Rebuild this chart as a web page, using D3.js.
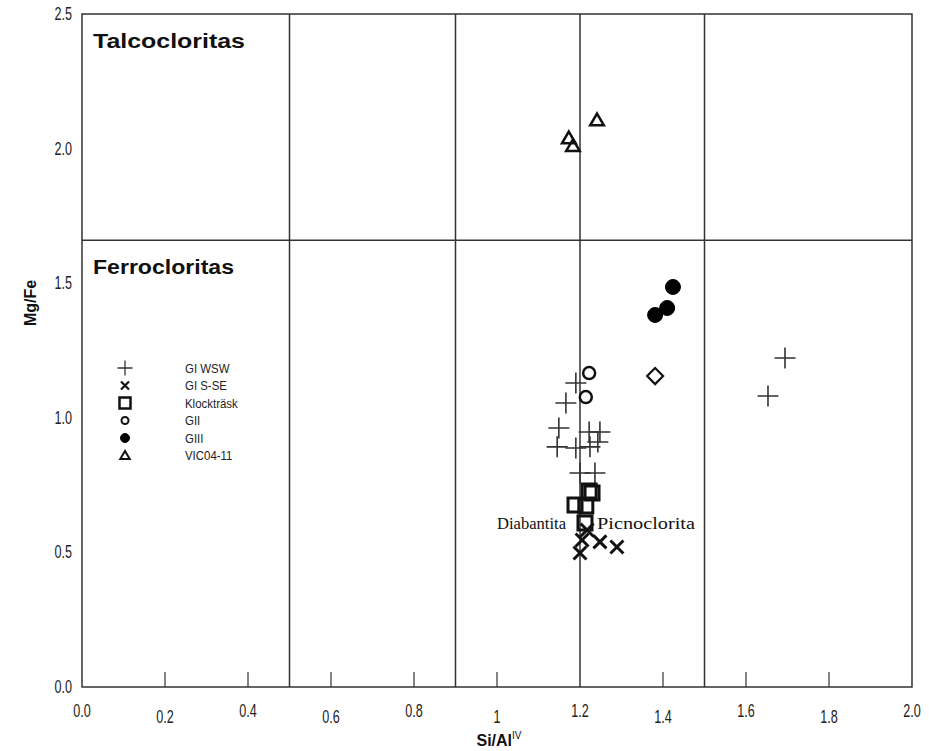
<!DOCTYPE html>
<html lang="es">
<head>
  <meta charset="UTF-8">
  <title>Mg/Fe vs Si/AlIV</title>
  <script src="https://cdn.jsdelivr.net/npm/d3@7"></script>
  <style>
    html, body { margin: 0; padding: 0; background: #fff; }
    svg { display: block; }
    .tick-lbl { font-family: "Liberation Sans", Arial, sans-serif; font-size: 17.5px; fill: #222; }
    .zone { font-family: "Liberation Sans", Arial, sans-serif; font-size: 20px; font-weight: bold; fill: #111; }
    .axis-title { font-family: "Liberation Sans", Arial, sans-serif; font-size: 16px; font-weight: bold; fill: #111; }
    .legend { font-family: "Liberation Sans", Arial, sans-serif; font-size: 13px; fill: #222; }
    .note { font-family: "Liberation Serif", "DejaVu Serif", serif; font-size: 16px; fill: #111; }
  </style>
</head>
<body>
<svg id="chart" width="929" height="751"></svg>
<script>
  // data (x = Si/AlIV, y = Mg/Fe)
  let giWsw = [
    [1.190, 1.129], [1.166, 1.055], [1.149, 0.962], [1.145, 0.892], [1.190, 0.888],
    [1.222, 0.947], [1.248, 0.947], [1.243, 0.910], [1.224, 0.892],
    [1.200, 0.795], [1.236, 0.795], [1.694, 1.222], [1.653, 1.081]
  ]
  let giSse = [[1.217, 0.583], [1.205, 0.546], [1.248, 0.539], [1.289, 0.520], [1.200, 0.498]]
  let klockPts = [[1.222, 0.728], [1.229, 0.721], [1.188, 0.676], [1.214, 0.672], [1.212, 0.609]]
  let giiPts = [[1.222, 1.166], [1.214, 1.077]]
  let giiiPts = [[1.424, 1.486], [1.410, 1.408], [1.381, 1.382]]
  let vicPts = [[1.241, 2.106], [1.173, 2.039], [1.183, 2.010]]
  let otherPts = [[1.381, 1.155]]

  let xTicks = [0, 0.2, 0.4, 0.6, 0.8, 1.0, 1.2, 1.4, 1.6, 1.8, 2.0]
  let xTickLabels = ["0.0", "0.2", "0.4", "0.6", "0.8", "1", "1.2", "1.4", "1.6", "1.8", "2.0"]
  let yTicks = [0, 0.5, 1.0, 1.5, 2.0, 2.5]
  let yTickLabels = ["0.0", "0.5", "1.0", "1.5", "2.0", "2.5"]
  let innerTicks = [0.2, 0.4, 0.6, 0.8, 1.0, 1.4, 1.6, 1.8]
  let xDividers = [0.5, 0.9, 1.2, 1.5]
  let yDivider = 1.66
  let legendNames = ["GI WSW", "GI S-SE", "Klockträsk", "GII", "GIII", "VIC04-11"]

  let svg = d3.select('#chart')
  let x = d3.scaleLinear().domain([0, 2]).range([82, 912])
  let y = d3.scaleLinear().domain([0, 2.5]).range([687, 14])

  // custom marker shapes for d3.symbol (size = half width here)
  let plusShape = { draw: (c, s) => { c.moveTo(-s, 0); c.lineTo(s, 0); c.moveTo(0, -s); c.lineTo(0, s) } }
  let xShape = { draw: (c, s) => { c.moveTo(-s, -s); c.lineTo(s, s); c.moveTo(-s, s); c.lineTo(s, -s) } }
  let squareShape = { draw: (c, s) => { c.rect(-s, -s, 2 * s, 2 * s) } }
  let circleShape = { draw: (c, s) => { c.moveTo(s, 0); c.arc(0, 0, s, 0, 2 * Math.PI) } }
  let triShape = { draw: (c, s) => { c.moveTo(0, -s); c.lineTo(s * 1.05, s * 0.8); c.lineTo(-s * 1.05, s * 0.8); c.closePath() } }
  let diamondShape = { draw: (c, s) => { c.moveTo(0, -s); c.lineTo(s, 0); c.lineTo(0, s); c.lineTo(-s, 0); c.closePath() } }

  let series = [
    { pts: giWsw, shape: plusShape, size: 10.5, fill: 'none', stroke: '#333', sw: 1.6, lsize: 7.5, lsw: 1.3 },
    { pts: giSse, shape: xShape, size: 6.5, fill: 'none', stroke: '#111', sw: 3, lsize: 4, lsw: 2.2 },
    { pts: klockPts, shape: squareShape, size: 7, fill: 'none', stroke: '#111', sw: 3, lsize: 5.5, lsw: 2.5 },
    { pts: giiPts, shape: circleShape, size: 6, fill: 'none', stroke: '#111', sw: 2.5, lsize: 3.5, lsw: 2 },
    { pts: giiiPts, shape: circleShape, size: 7.5, fill: '#000', stroke: '#000', sw: 1, lsize: 4.5, lsw: 1 },
    { pts: vicPts, shape: triShape, size: 6.5, fill: 'none', stroke: '#111', sw: 2.5, lsize: 4.5, lsw: 2 }
  ]

  // frame and dividing lines
  svg.append('rect')
    .attr('x', x(0)).attr('y', y(2.5))
    .attr('width', x(2) - x(0)).attr('height', y(0) - y(2.5))
    .attr('fill', 'none').attr('stroke', '#333').attr('stroke-width', 1.5)

  svg.selectAll('.vdiv').data(xDividers).enter().append('line')
    .attr('x1', d => x(d)).attr('x2', d => x(d))
    .attr('y1', y(0)).attr('y2', y(2.5))
    .attr('stroke', '#333').attr('stroke-width', 1.5)

  svg.append('line')
    .attr('x1', x(0)).attr('x2', x(2))
    .attr('y1', y(yDivider)).attr('y2', y(yDivider))
    .attr('stroke', '#333').attr('stroke-width', 1.5)

  svg.selectAll('.itick').data(innerTicks).enter().append('line')
    .attr('x1', d => x(d)).attr('x2', d => x(d))
    .attr('y1', y(0)).attr('y2', y(0) - 15)
    .attr('stroke', '#333').attr('stroke-width', 1.2)

  // tick labels (narrowed), x ones alternate up/down like the original
  svg.selectAll('.xlbl').data(xTicks).enter().append('text')
    .attr('class', 'tick-lbl')
    .attr('transform', (d, i) => `translate(${x(d)},${i % 2 ? 723 : 717}) scale(0.72,1)`)
    .attr('text-anchor', 'middle')
    .text((d, i) => xTickLabels[i])

  svg.selectAll('.ylbl').data(yTicks).enter().append('text')
    .attr('class', 'tick-lbl')
    .attr('transform', d => `translate(72,${y(d) + 6}) scale(0.72,1)`)
    .attr('text-anchor', 'end')
    .text((d, i) => yTickLabels[i])

  // axis titles
  let xt = svg.append('text').attr('class', 'axis-title')
    .attr('x', 499).attr('y', 746).attr('text-anchor', 'middle')
  xt.append('tspan').text('Si/Al')
  xt.append('tspan').attr('font-size', '10px').attr('font-weight', 'normal').attr('dy', -7).text('IV')

  svg.append('text').attr('class', 'axis-title')
    .attr('transform', 'translate(36,303) rotate(-90)')
    .attr('text-anchor', 'middle')
    .text('Mg/Fe')

  // zone names (the original glyphs are wider than Liberation Sans)
  svg.append('text').attr('class', 'zone').attr('x', 93).attr('y', 48)
    .attr('textLength', 152).attr('lengthAdjust', 'spacingAndGlyphs').text('Talcocloritas')
  svg.append('text').attr('class', 'zone').attr('x', 93).attr('y', 274)
    .attr('textLength', 141).attr('lengthAdjust', 'spacingAndGlyphs').text('Ferrocloritas')

  // markers
  series.forEach(s => {
    svg.append('g').selectAll('path').data(s.pts).enter().append('path')
      .attr('transform', d => `translate(${x(d[0])},${y(d[1])})`)
      .attr('d', d3.symbol().type(s.shape).size(s.size))
      .attr('fill', s.fill).attr('stroke', s.stroke).attr('stroke-width', s.sw)
  })

  svg.selectAll('.other').data(otherPts).enter().append('path')
    .attr('transform', d => `translate(${x(d[0])},${y(d[1])})`)
    .attr('d', d3.symbol().type(diamondShape).size(8))
    .attr('fill', 'none').attr('stroke', '#111').attr('stroke-width', 2.2)

  // notes
  svg.append('text').attr('class', 'note').attr('x', 566).attr('y', 529).attr('text-anchor', 'end')
    .attr('textLength', 69).attr('lengthAdjust', 'spacingAndGlyphs').text('Diabantita')
  svg.append('text').attr('class', 'note').attr('x', 597).attr('y', 529)
    .attr('textLength', 98).attr('lengthAdjust', 'spacingAndGlyphs').text('Picnoclorita')

  // legend
  let legend = svg.append('g')
  series.forEach((s, i) => {
    let ly = 368 + i * 17.5
    legend.append('path')
      .attr('transform', `translate(125,${ly})`)
      .attr('d', d3.symbol().type(s.shape).size(s.lsize))
      .attr('fill', s.fill).attr('stroke', s.stroke).attr('stroke-width', s.lsw)
    legend.append('text').attr('class', 'legend')
      .attr('transform', `translate(185,${ly + 4.5}) scale(0.88,1)`)
      .text(legendNames[i])
  })
</script>
</body>
</html>
